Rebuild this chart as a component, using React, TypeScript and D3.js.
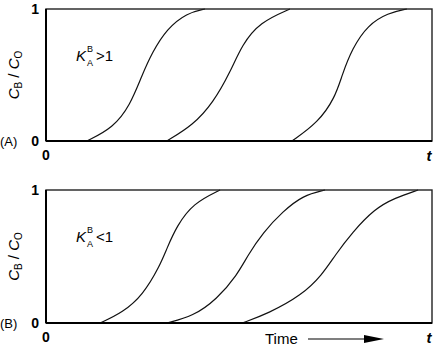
import React from "react";
import * as d3 from "d3";

// breakthrough curves, time in % of the axis, value = C_B / C_O
const curvesA = [
  { t: [10.6, 17.4, 21.8, 24.9, 27.5, 31.3, 36.5, 41.2], v: [0, 0.1, 0.27, 0.5, 0.67, 0.85, 0.97, 1] },
  { t: [31.3, 38.1, 43.3, 47.7, 50.8, 55.4, 63.2], v: [0, 0.12, 0.29, 0.52, 0.73, 0.9, 1] },
  { t: [63.7, 70.5, 74.9, 76.7, 79.3, 83.4, 88.6, 93.5], v: [0, 0.14, 0.33, 0.5, 0.7, 0.88, 0.97, 1] },
];
const curvesB = [
  { t: [14.0, 19.9, 25.1, 29.5, 31.3, 33.9, 38.1, 45.1], v: [0, 0.08, 0.21, 0.43, 0.56, 0.73, 0.9, 1] },
  { t: [31.3, 38.1, 44.3, 49.5, 52.3, 56.2, 61.4, 66.6, 72.3], v: [0, 0.05, 0.18, 0.36, 0.51, 0.68, 0.84, 0.96, 1] },
  { t: [50.8, 57.5, 66.3, 71.5, 74.9, 79.3, 85.2, 90.4, 96.4], v: [0, 0.07, 0.21, 0.36, 0.51, 0.68, 0.86, 0.94, 1] },
];
const yTicks = [0, 1];
const xTicks = [0];

const W = 438;
const H = 352;
const FONT = "'Liberation Sans', Arial, sans-serif";

const x = d3.scaleLinear().domain([0, 100]).range([46, 432]);

const Panel = ({ curves, top, bottom, tag, sign }) => {
  const y = d3.scaleLinear().domain([0, 1]).range([bottom, top]);
  const line = d3
    .line<[number, number]>()
    .x((d) => x(d[0]))
    .y((d) => y(d[1]))
    .curve(d3.curveBasis);
  const midY = (top + bottom) / 2;
  return (
    <g>
      {curves.map((c, i) => (
        <path
          key={i}
          d={line(c.t.map((t, j) => [t, c.v[j]]))}
          fill="none"
          stroke="#111"
          strokeWidth={1.2}
        />
      ))}
      {/* frame */}
      <rect
        x={x(0)}
        y={y(1)}
        width={x(100) - x(0)}
        height={y(0) - y(1)}
        fill="none"
        stroke="#222"
        strokeWidth={1.4}
      />
      <line x1={x(0)} x2={x(100)} y1={y(0)} y2={y(0)} stroke="#000" strokeWidth={2} />
      <line x1={x(0)} x2={x(0)} y1={y(0)} y2={y(1)} stroke="#000" strokeWidth={2} />
      {yTicks.map((v) => (
        <text
          key={v}
          x={39}
          y={y(v) + 5}
          textAnchor="end"
          fontSize={14}
          fontWeight="bold"
          fontFamily={FONT}
        >
          {v}
        </text>
      ))}
      <text x={0} y={y(0) + 5} fontSize={13} fontFamily={FONT}>
        {tag}
      </text>
      {xTicks.map((t) => (
        <text
          key={t}
          x={x(t)}
          y={y(0) + 19}
          textAnchor="middle"
          fontSize={14}
          fontWeight="bold"
          fontFamily={FONT}
        >
          {t}
        </text>
      ))}
      <text
        x={x(100) - 3}
        y={y(0) + 20}
        textAnchor="middle"
        fontSize={15}
        fontWeight="bold"
        fontStyle="italic"
        fontFamily={FONT}
      >
        t
      </text>
      {/* y label */}
      <text
        transform={`translate(19,${midY}) rotate(-90)`}
        textAnchor="middle"
        fontSize={15}
        fontFamily={FONT}
      >
        <tspan fontStyle="italic">C</tspan>
        <tspan fontSize={10} dy={3}>B</tspan>
        <tspan dy={-3}> / </tspan>
        <tspan fontStyle="italic">C</tspan>
        <tspan fontSize={10} dy={3}>O</tspan>
      </text>
      {/* K label */}
      <g transform={`translate(76,${top + 52})`} fontFamily={FONT}>
        <text x={0} y={0} fontSize={15} fontStyle="italic">K</text>
        <text x={11} y={-9} fontSize={9}>B</text>
        <text x={11} y={5} fontSize={9}>A</text>
        <text x={20} y={0} fontSize={15}>{sign}</text>
      </g>
    </g>
  );
};

export default function App() {
  return (
    <svg
      width={W}
      height={H}
      style={{ position: "absolute", left: 0, top: 0, background: "#fff" }}
    >
      <Panel curves={curvesA} top={9} bottom={141} tag="(A)" sign=">1" />
      <Panel curves={curvesB} top={190} bottom={323} tag="(B)" sign="<1" />
      <text x={265} y={344} fontSize={15} fontFamily={FONT}>
        Time
      </text>
      <line x1={308} x2={368} y1={339} y2={339} stroke="#000" strokeWidth={1.2} />
      <path d="M364,335 L384,339 L364,343 Z" fill="#000" />
    </svg>
  );
}
